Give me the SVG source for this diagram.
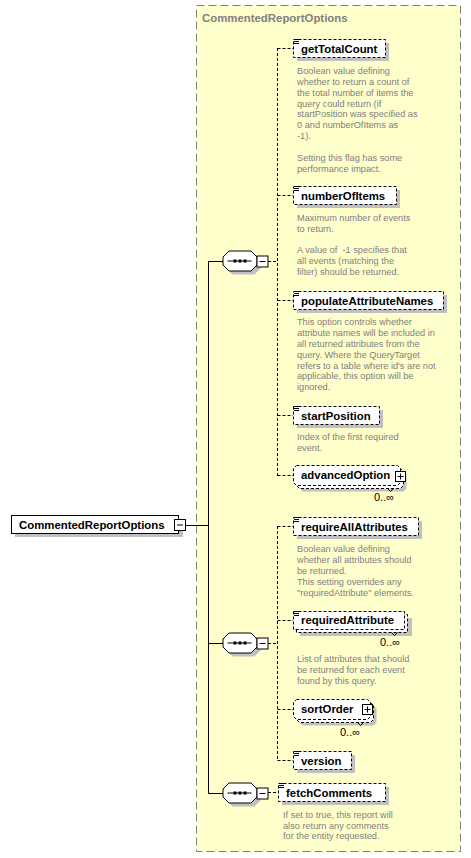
<svg xmlns="http://www.w3.org/2000/svg" width="471" height="858" viewBox="0 0 471 858">
<style>
.lbl{font-family:"Liberation Sans",Arial,sans-serif;font-weight:bold;font-size:11.4px;fill:#000}
.ttl{font-family:"Liberation Sans",Arial,sans-serif;font-weight:bold;font-size:11.4px;fill:#808080}
.desc{font-family:"Liberation Sans",Arial,sans-serif;font-size:9.2px;fill:#808080;white-space:pre}
.occ{font-family:"Liberation Sans",Arial,sans-serif;font-size:11px;fill:#000}
.box{fill:#fff;stroke:#000;stroke-width:1;stroke-dasharray:3,2}
.sbox{fill:#fff;stroke:#000;stroke-width:1}
.shd{fill:#c0c0c0}
.ln{stroke:#000;stroke-width:1;fill:none}
.dl{stroke:#000;stroke-width:1;fill:none;stroke-dasharray:3,2}
.icon{stroke:#000;stroke-width:1;fill:none}
</style>
<defs>
<g id="simple"><path class="icon" d="M0,0.5h5M0,2.5h5M0,4.5h5"/></g>
<g id="seq">
<polygon class="shd" points="10,4 32,4 38,10 38,18 32,24 10,24 4,18 4,10"/>
<polygon class="sbox" points="6.5,0.5 28.5,0.5 34.5,6.5 34.5,14.5 28.5,20.5 6.5,20.5 0.5,14.5 0.5,6.5"/>
<path class="ln" d="M5,10.5h24"/>
<rect x="11" y="9" width="3" height="3" fill="#000"/>
<rect x="16" y="9" width="3" height="3" fill="#000"/>
<rect x="21" y="9" width="3" height="3" fill="#000"/>
<rect class="sbox" x="34.5" y="5.5" width="11" height="11"/>
<path class="ln" d="M37,11h6"/>
</g>
<g id="plus">
<rect class="sbox" x="0.5" y="0.5" width="10" height="10"/>
<path class="ln" d="M2.5,5.5h6M5.5,2.5v6"/>
</g>
</defs>

<rect x="196.5" y="5.5" width="264" height="846" fill="#ffffcc" stroke="#808080" stroke-dasharray="8,4"/>
<text class="ttl" x="202" y="22">CommentedReportOptions</text>

<g id="connectors">
<path class="ln" d="M185,525.5H208.5M208.5,261.5V793.5M208.5,261.5H223M208.5,643.5H223M208.5,793.5H223"/>
<path class="dl" d="M268,261.5H277.5M277.5,48V476M277.5,48.5H293M277.5,195.5H293M277.5,300.5H293M277.5,415.5H293M277.5,475.5H293"/>
<path class="dl" d="M268,643.5H277.5M277.5,526V760M277.5,526.5H293M277.5,620.5H293M277.5,709.5H293M277.5,760.5H293"/>
<path class="dl" d="M268,792.5H278"/>
</g>

<g id="root">
<rect class="shd" x="15" y="519" width="168" height="18"/>
<rect class="sbox" x="11.5" y="515.5" width="167" height="18"/>
<text class="lbl" x="19" y="528.5">CommentedReportOptions</text>
<rect class="sbox" x="174.5" y="519.5" width="11" height="11"/>
<path class="ln" d="M177,525h6"/>
</g>

<g id="seq1"><use href="#seq" x="222.5" y="250.5"/></g>
<g id="seq2"><use href="#seq" x="222.5" y="632.5"/></g>
<g id="seq3"><use href="#seq" x="222.5" y="782.5"/></g>

<g id="getTotalCount">
<rect class="shd" x="297" y="43" width="92" height="18"/>
<rect class="box" x="293.5" y="39.5" width="92" height="18"/>
<use href="#simple" x="294" y="39"/>
<text class="lbl" x="301" y="52.5">getTotalCount</text>
<text class="desc"><tspan x="297" y="74">Boolean value defining</tspan><tspan x="297" y="84.9">whether to return a count of</tspan><tspan x="297" y="95.7">the total number of items the</tspan><tspan x="297" y="106.6">query could return (if</tspan><tspan x="297" y="117.4">startPosition was specified as</tspan><tspan x="297" y="128.3">0 and numberOfItems as</tspan><tspan x="297" y="139.1">-1).</tspan><tspan x="297" y="160.8">Setting this flag has some</tspan><tspan x="297" y="171.7">performance impact.</tspan></text>
</g>

<g id="numberOfItems">
<rect class="shd" x="297" y="190" width="103" height="18"/>
<rect class="box" x="293.5" y="186.5" width="103" height="18"/>
<use href="#simple" x="294" y="186"/>
<text class="lbl" x="301" y="199.5">numberOfItems</text>
<text class="desc"><tspan x="297" y="220.8">Maximum number of events</tspan><tspan x="297" y="231.7">to return.</tspan><tspan x="297" y="253.4">A value of  -1 specifies that</tspan><tspan x="297" y="264.2">all events (matching the</tspan><tspan x="297" y="275.1">filter) should be returned.</tspan></text>
</g>

<g id="populateAttributeNames">
<rect class="shd" x="297" y="295" width="150" height="18"/>
<rect class="box" x="293.5" y="291.5" width="150" height="18"/>
<use href="#simple" x="294" y="291"/>
<text class="lbl" x="301" y="304.5">populateAttributeNames</text>
<text class="desc"><tspan x="297" y="325.2">This option controls whether</tspan><tspan x="297" y="336">attribute names will be included in</tspan><tspan x="297" y="346.9">all returned attributes from the</tspan><tspan x="297" y="357.7">query. Where the QueryTarget</tspan><tspan x="297" y="368.6">refers to a table where id's are not</tspan><tspan x="297" y="379.4">applicable, this option will be</tspan><tspan x="297" y="390.3">ignored.</tspan></text>
</g>

<g id="startPosition">
<rect class="shd" x="297" y="410" width="86" height="18"/>
<rect class="box" x="293.5" y="406.5" width="86" height="18"/>
<use href="#simple" x="294" y="406"/>
<text class="lbl" x="301" y="419.5">startPosition</text>
<text class="desc"><tspan x="297" y="440.2">Index of the first required</tspan><tspan x="297" y="451.1">event.</tspan></text>
</g>

<g id="advancedOption">
<polygon class="shd" points="302.5,471.5 403.5,471.5 406.5,474.5 406.5,488.5 403.5,491.5 302.5,491.5 299.5,488.5 299.5,474.5"/>
<polygon class="box" points="299.5,468.5 400.5,468.5 403.5,471.5 403.5,485.5 400.5,488.5 299.5,488.5 296.5,485.5 296.5,471.5"/>
<polygon class="box" points="296.5,465.5 397.5,465.5 400.5,468.5 400.5,482.5 397.5,485.5 296.5,485.5 293.5,482.5 293.5,468.5"/>
<path class="ln" d="M387.5,488.5l3,3l3,-3"/>
<text class="lbl" x="301" y="479">advancedOption</text>
<use href="#plus" x="395" y="471"/>
<text class="occ" x="374" y="501">0..∞</text>
</g>

<g id="requireAllAttributes">
<rect class="shd" x="297" y="521" width="125" height="18"/>
<rect class="box" x="293.5" y="517.5" width="125" height="18"/>
<use href="#simple" x="294" y="517"/>
<text class="lbl" x="301" y="531">requireAllAttributes</text>
<text class="desc"><tspan x="297" y="551.8">Boolean value defining</tspan><tspan x="297" y="562.8">whether all attributes should</tspan><tspan x="297" y="574.1">be returned.</tspan><tspan x="297" y="585.1">This setting overrides any</tspan><tspan x="297" y="596.1">"requiredAttribute" elements.</tspan></text>
</g>

<g id="requiredAttribute">
<rect class="shd" x="300" y="618" width="112" height="18"/>
<rect class="box" x="296.5" y="614.5" width="111" height="18"/>
<rect class="box" x="293.5" y="611.5" width="111" height="18"/>
<path class="ln" d="M391.5,632.5l3,3l3,-3"/>
<use href="#simple" x="294" y="611"/>
<text class="lbl" x="301" y="624">requiredAttribute</text>
<text class="occ" x="380" y="646">0..∞</text>
<text class="desc"><tspan x="297" y="661.8">List of attributes that should</tspan><tspan x="297" y="672.8">be returned for each event</tspan><tspan x="297" y="684.1">found by this query.</tspan></text>
</g>

<g id="sortOrder">
<polygon class="shd" points="302.5,705.5 373.5,705.5 376.5,708.5 376.5,722.5 373.5,725.5 302.5,725.5 299.5,722.5 299.5,708.5"/>
<polygon class="box" points="299.5,702.5 370.5,702.5 373.5,705.5 373.5,719.5 370.5,722.5 299.5,722.5 296.5,719.5 296.5,705.5"/>
<polygon class="box" points="296.5,699.5 367.5,699.5 370.5,702.5 370.5,716.5 367.5,719.5 296.5,719.5 293.5,716.5 293.5,702.5"/>
<path class="ln" d="M357.5,722.5l3,3l3,-3"/>
<text class="lbl" x="301" y="713">sortOrder</text>
<use href="#plus" x="362" y="704"/>
<text class="occ" x="340" y="736">0..∞</text>
</g>

<g id="version">
<rect class="shd" x="297" y="755" width="58" height="18"/>
<rect class="box" x="293.5" y="751.5" width="58" height="18"/>
<use href="#simple" x="294" y="751"/>
<text class="lbl" x="301" y="764.5">version</text>
</g>

<g id="fetchComments">
<rect class="shd" x="282" y="787" width="107" height="18"/>
<rect class="box" x="278.5" y="783.5" width="107" height="18"/>
<use href="#simple" x="279" y="783"/>
<text class="lbl" x="286" y="797">fetchComments</text>
<text class="desc"><tspan x="283" y="817.5">If set to true, this report will</tspan><tspan x="283" y="828.5">also return any comments</tspan><tspan x="283" y="839.2">for the entity requested.</tspan></text>
</g>
</svg>
